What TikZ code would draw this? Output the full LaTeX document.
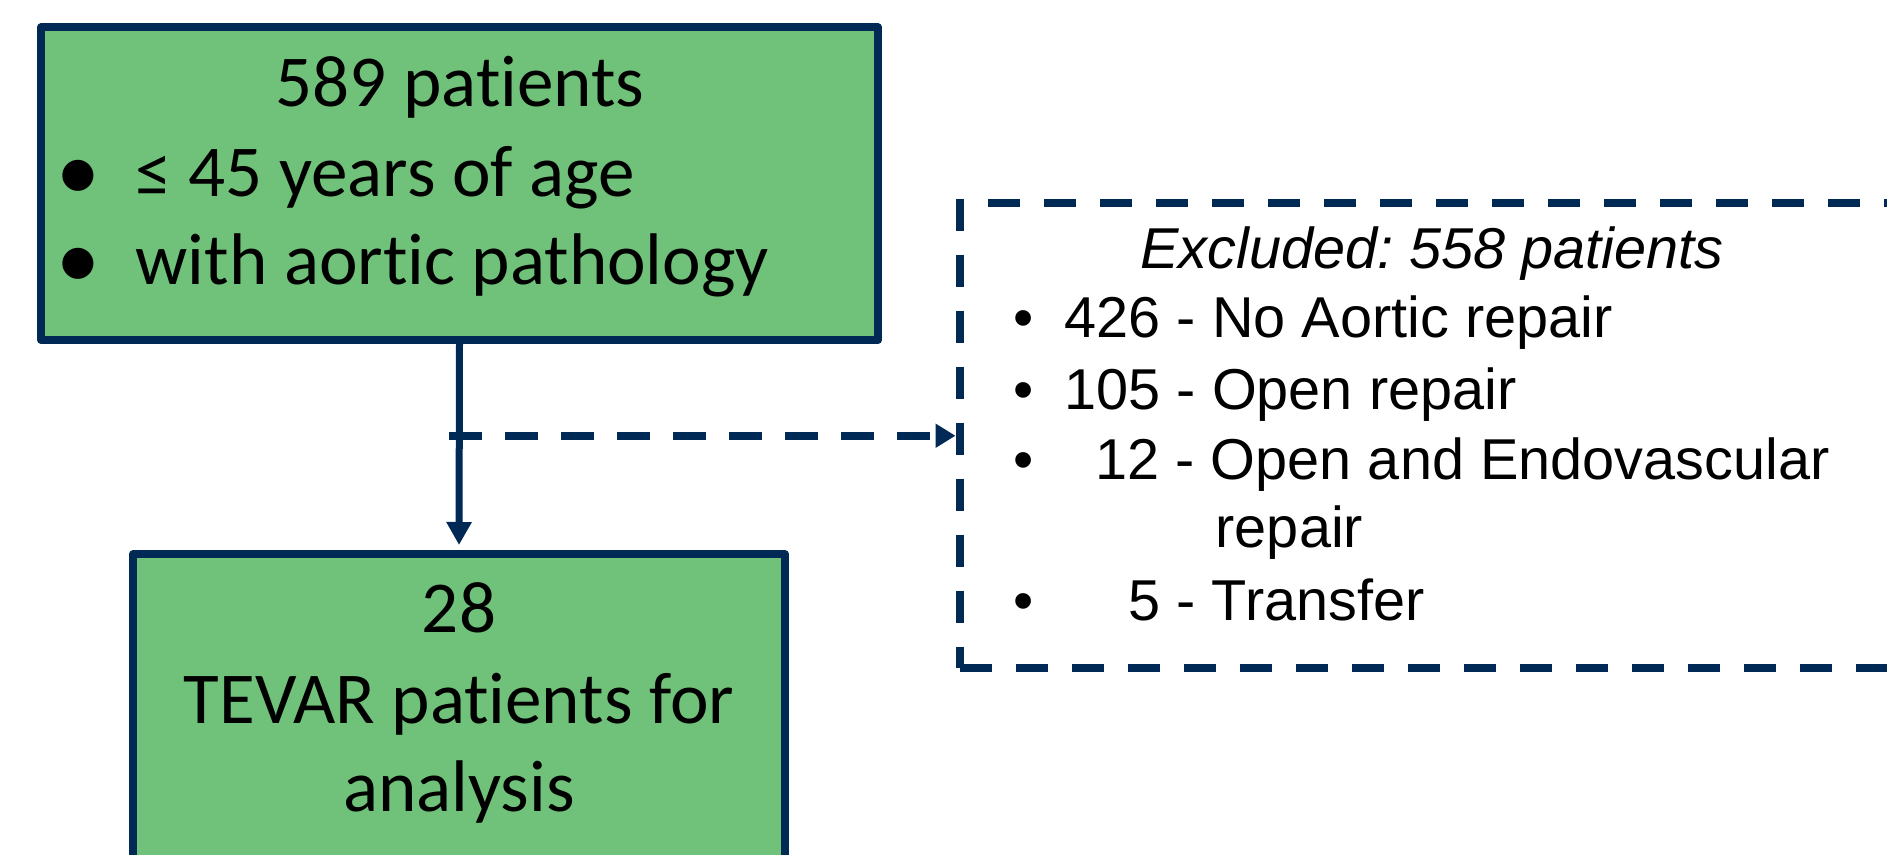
\documentclass[tikz,border=0pt]{standalone}
\usepackage{fontspec}
\setmainfont[Ligatures=NoCommon,Contextuals=NoAlternate]{Carlito}
\newfontfamily\arialfont{Liberation Sans}
\usetikzlibrary{arrows.meta}
\definecolor{boxgreen}{RGB}{112,193,121}
\definecolor{navy}{RGB}{0,41,86}
\frenchspacing
\tikzset{
  greenbox/.style={rectangle,draw=navy,fill=boxgreen,line width=0.08cm,line join=round,inner sep=0pt},
  exclbox/.style={rectangle,draw=navy,line width=0.08cm,dash pattern=on 0.32cm off 0.24cm,inner sep=0pt},
  bigtext/.style={font=\fontsize{20.8}{25}\selectfont,inner sep=0pt},
  bigdot/.style={font=\fontsize{25}{30}\selectfont,inner sep=0pt,anchor=base},
  smalltext/.style={font=\arialfont\fontsize{16.4}{20}\selectfont,inner sep=0pt},
}
\begin{document}
\begin{tikzpicture}
\useasboundingbox (0,0) rectangle (18.87,8.54);
\clip (0,0) rectangle (18.87,8.54);
\node[greenbox,minimum width=8.37cm,minimum height=3.125cm] (pool) at (4.595,6.7025) {};
\node[greenbox,minimum width=6.52cm,minimum height=3.6cm] (cohort) at (4.59,1.195) {};
\node[exclbox,minimum width=9.455cm,minimum height=4.655cm] (excl) at (14.3225,4.1825) {};

\node[bigtext,anchor=base] (pooltitle) at (4.60,7.47) {589 patients};
\node[bigdot] (bulletage) at (0.78,6.53) {•};
\node[bigtext,anchor=base west] (age) at (1.35,6.57) {≤ 45 years of age};
\node[bigdot] (bulletpath) at (0.78,5.65) {•};
\node[bigtext,anchor=base west] (path) at (1.35,5.69) {with aortic pathology};

\node[bigtext,anchor=base] (cohortnum) at (4.59,2.21) {28};
\node[bigtext,anchor=base] (cohortline) at (4.59,1.31) {TEVAR patients for};
\node[bigtext,anchor=base] (cohortend) at (4.59,0.42) {analysis};

\node[smalltext,anchor=base,font=\arialfont\itshape\fontsize{16.4}{20}\selectfont] (excltitle) at (14.32,5.85) {Excluded: 558 patients};
\node[smalltext,anchor=base] (bulletnone) at (10.24,5.16) {•};
\node[smalltext,anchor=base west] (none) at (10.64,5.16) {426 - No Aortic repair};
\node[smalltext,anchor=base] (bulletopen) at (10.24,4.44) {•};
\node[smalltext,anchor=base west] (open) at (10.64,4.44) {105 - Open repair};
\node[smalltext,anchor=base] (bulletboth) at (10.24,3.74) {•};
\node[smalltext,anchor=base west] (both) at (10.95,3.74) {12 - Open and Endovascular};
\node[smalltext,anchor=base west] (bothend) at (12.15,3.06) {repair};
\node[smalltext,anchor=base] (bullettrans) at (10.24,2.34) {•};
\node[smalltext,anchor=base west] (trans) at (11.28,2.34) {5 - Transfer};

\draw[navy,line width=0.07cm,-{Triangle[width=0.24cm,length=0.23cm]},shorten >=0.055cm] (pool.south) -- (cohort.north);
\coordinate (split) at (4.49,4.1825);
\draw[navy,line width=0.08cm,dash pattern=on 0.33cm off 0.23cm,-{Triangle[width=0.23cm,length=0.2cm]}] (split) -- (excl.west);
\end{tikzpicture}
\end{document}
